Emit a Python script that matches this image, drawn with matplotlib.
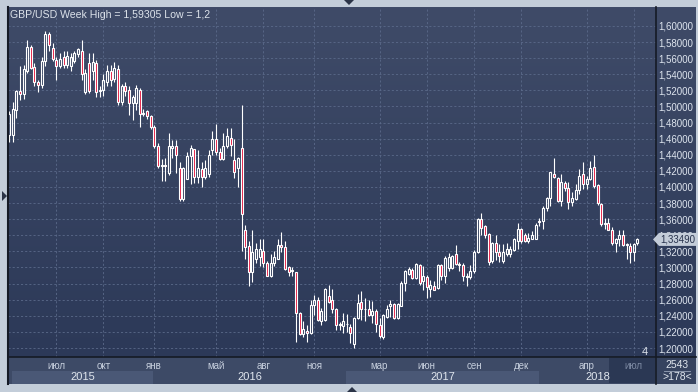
import matplotlib
matplotlib.use("Agg")
import matplotlib.pyplot as plt
import matplotlib.transforms as mtransforms
import numpy as np
from matplotlib.patches import Rectangle, Polygon
from matplotlib.lines import Line2D
from matplotlib.colors import LinearSegmentedColormap

plt.rcParams['font.family'] = ['Liberation Sans', 'DejaVu Sans']

# weekly GBP/USD candles (oldest first)
opens = [
    1.465, 1.465, 1.496, 1.519, 1.516, 1.544, 1.574, 1.549, 1.530, 1.527,
    1.557, 1.590, 1.573, 1.558, 1.550, 1.562, 1.552, 1.550, 1.556, 1.565,
    1.569, 1.518, 1.554, 1.544, 1.554, 1.519, 1.520, 1.531, 1.544, 1.534,
    1.546, 1.505, 1.525, 1.520, 1.504, 1.504, 1.521, 1.491, 1.494, 1.488,
    1.475, 1.451, 1.426, 1.427, 1.417, 1.449, 1.451, 1.423, 1.385, 1.410,
    1.438, 1.447, 1.413, 1.422, 1.413, 1.416, 1.446, 1.460, 1.443, 1.435,
    1.451, 1.461, 1.433, 1.423, 1.448, 1.346, 1.327, 1.294, 1.310, 1.313,
    1.321, 1.306, 1.290, 1.306, 1.311, 1.328, 1.326, 1.301, 1.296, 1.294,
    1.243, 1.2175, 1.2217, 1.2183, 1.253, 1.2596, 1.234, 1.235, 1.2642, 1.26,
    1.2488, 1.2283, 1.2279, 1.2292, 1.2263, 1.2046, 1.2371, 1.2571, 1.248, 1.2483,
    1.2413, 1.2463, 1.2288, 1.2142, 1.2379, 1.2517, 1.2546, 1.2371, 1.2525, 1.2808,
    1.2921, 1.2975, 1.2871, 1.3029, 1.2829, 1.2879, 1.2738, 1.2775, 1.2746, 1.3029,
    1.2892, 1.2996, 1.2996, 1.3162, 1.3046, 1.3029, 1.2888, 1.2888, 1.2954, 1.3192,
    1.36, 1.3517, 1.3413, 1.3079, 1.33, 1.3192, 1.3079, 1.3163, 1.3171, 1.3217,
    1.3329, 1.3483, 1.34, 1.3329, 1.3358, 1.3358, 1.3579, 1.3579, 1.3733, 1.3858,
    1.4163, 1.4108, 1.3829, 1.405, 1.3983, 1.3808, 1.385, 1.3963, 1.4163, 1.4038,
    1.41, 1.4246, 1.4025, 1.3788, 1.3538, 1.355, 1.3467, 1.33, 1.335, 1.3404,
    1.3275, 1.3267, 1.3196, 1.33,
]
highs = [
    1.494, 1.506, 1.520, 1.550, 1.552, 1.583, 1.577, 1.554, 1.533, 1.562,
    1.594, 1.593, 1.579, 1.562, 1.567, 1.569, 1.569, 1.567, 1.569, 1.573,
    1.583, 1.546, 1.567, 1.567, 1.558, 1.525, 1.540, 1.552, 1.552, 1.555,
    1.552, 1.528, 1.531, 1.525, 1.514, 1.527, 1.523, 1.497, 1.496, 1.490,
    1.477, 1.455, 1.435, 1.436, 1.467, 1.458, 1.458, 1.431, 1.425, 1.444,
    1.452, 1.447, 1.446, 1.431, 1.434, 1.446, 1.469, 1.478, 1.448, 1.467,
    1.473, 1.473, 1.460, 1.437, 1.502, 1.353, 1.333, 1.347, 1.331, 1.336,
    1.336, 1.308, 1.317, 1.321, 1.335, 1.344, 1.333, 1.302, 1.301, 1.295,
    1.245, 1.233, 1.229, 1.260, 1.266, 1.263, 1.250, 1.274, 1.2787, 1.2737,
    1.2496, 1.2329, 1.2429, 1.2421, 1.2304, 1.238, 1.267, 1.2704, 1.262, 1.2596,
    1.2588, 1.2483, 1.237, 1.2421, 1.2538, 1.26, 1.2558, 1.2558, 1.283, 1.2975,
    1.3004, 1.2996, 1.3058, 1.3046, 1.3013, 1.2913, 1.285, 1.2829, 1.3038, 1.3038,
    1.3142, 1.3183, 1.3158, 1.3275, 1.3067, 1.305, 1.2933, 1.3025, 1.3217, 1.3621,
    1.3675, 1.3533, 1.3433, 1.3317, 1.3408, 1.3288, 1.3288, 1.3308, 1.3267, 1.3371,
    1.3558, 1.3496, 1.3433, 1.3433, 1.345, 1.3558, 1.3621, 1.3758, 1.3871, 1.4192,
    1.4358, 1.4121, 1.4163, 1.4079, 1.4067, 1.3933, 1.4038, 1.4225, 1.4308, 1.4142,
    1.4325, 1.44, 1.4038, 1.38, 1.3613, 1.3613, 1.35, 1.3363, 1.3467, 1.3467,
    1.33, 1.33, 1.3308, 1.3363,
]
lows = [
    1.456, 1.456, 1.486, 1.508, 1.509, 1.542, 1.546, 1.525, 1.518, 1.523,
    1.550, 1.569, 1.556, 1.533, 1.548, 1.548, 1.548, 1.544, 1.554, 1.562,
    1.533, 1.516, 1.517, 1.533, 1.512, 1.512, 1.513, 1.525, 1.525, 1.530,
    1.502, 1.502, 1.513, 1.490, 1.483, 1.496, 1.475, 1.488, 1.485, 1.472,
    1.448, 1.424, 1.407, 1.408, 1.415, 1.436, 1.417, 1.383, 1.383, 1.410,
    1.404, 1.405, 1.405, 1.400, 1.410, 1.413, 1.440, 1.440, 1.434, 1.433,
    1.448, 1.438, 1.411, 1.400, 1.321, 1.310, 1.277, 1.282, 1.306, 1.302,
    1.300, 1.289, 1.288, 1.302, 1.310, 1.319, 1.297, 1.290, 1.290, 1.208,
    1.216, 1.214, 1.208, 1.217, 1.241, 1.234, 1.229, 1.2337, 1.2558, 1.2433,
    1.2225, 1.2225, 1.2183, 1.2196, 1.2058, 1.200, 1.2363, 1.235, 1.2338, 1.2396,
    1.2313, 1.2204, 1.2121, 1.2113, 1.2371, 1.2379, 1.2363, 1.236, 1.2517, 1.2713,
    1.2908, 1.2854, 1.2854, 1.2788, 1.2717, 1.2621, 1.2629, 1.2717, 1.2738, 1.285,
    1.2808, 1.2958, 1.2979, 1.3029, 1.2958, 1.2829, 1.2767, 1.2858, 1.2933, 1.3183,
    1.34, 1.3367, 1.3025, 1.3054, 1.3092, 1.3067, 1.3054, 1.3146, 1.3125, 1.3204,
    1.3225, 1.3308, 1.3317, 1.3308, 1.335, 1.335, 1.3517, 1.3483, 1.3708, 1.3767,
    1.4108, 1.3817, 1.3763, 1.3954, 1.3725, 1.3767, 1.3833, 1.3917, 1.3975, 1.3975,
    1.4083, 1.3983, 1.3775, 1.3517, 1.3475, 1.3467, 1.3279, 1.3196, 1.3267, 1.3267,
    1.31, 1.305, 1.3075, 1.3283,
]
closes = [
    1.491, 1.497, 1.519, 1.516, 1.547, 1.574, 1.548, 1.530, 1.527, 1.556,
    1.590, 1.576, 1.559, 1.550, 1.559, 1.552, 1.563, 1.562, 1.567, 1.572,
    1.540, 1.542, 1.519, 1.555, 1.518, 1.521, 1.533, 1.544, 1.533, 1.548,
    1.505, 1.525, 1.519, 1.504, 1.512, 1.523, 1.491, 1.492, 1.488, 1.475,
    1.451, 1.426, 1.427, 1.426, 1.451, 1.451, 1.440, 1.385, 1.424, 1.438,
    1.449, 1.413, 1.423, 1.413, 1.423, 1.440, 1.460, 1.444, 1.435, 1.451,
    1.463, 1.452, 1.419, 1.436, 1.367, 1.325, 1.294, 1.319, 1.323, 1.323,
    1.306, 1.290, 1.306, 1.313, 1.328, 1.325, 1.298, 1.295, 1.297, 1.243,
    1.218, 1.2233, 1.2183, 1.2538, 1.260, 1.2346, 1.2454, 1.2738, 1.2571, 1.2483,
    1.2288, 1.2292, 1.2338, 1.2296, 1.2183, 1.2371, 1.2558, 1.2483, 1.2488, 1.2413,
    1.2463, 1.2296, 1.2154, 1.2413, 1.2483, 1.2546, 1.2371, 1.2546, 1.2808, 1.2954,
    1.2983, 1.2871, 1.3046, 1.2808, 1.2892, 1.2754, 1.2779, 1.2725, 1.3029, 1.2892,
    1.3121, 1.3129, 1.3142, 1.3038, 1.3029, 1.2892, 1.2896, 1.2954, 1.3192, 1.3608,
    1.3496, 1.34, 1.3067, 1.3308, 1.3192, 1.3142, 1.3192, 1.3233, 1.3225, 1.3358,
    1.3483, 1.3329, 1.3329, 1.3371, 1.34, 1.3525, 1.3567, 1.3733, 1.3858, 1.4183,
    1.4121, 1.3829, 1.4058, 1.3983, 1.3808, 1.3858, 1.3963, 1.4142, 1.4038, 1.41,
    1.4233, 1.4008, 1.38, 1.3538, 1.3558, 1.3467, 1.33, 1.335, 1.3404, 1.3279,
    1.3296, 1.3196, 1.3288, 1.3349,
]

# first bar of each labelled month (bar index) and its label
month_pos = [13, 26, 40, 57, 70, 84, 102, 115, 128, 141, 159, 172]
month_lbl = ['июл', 'окт', 'янв', 'май', 'авг', 'ноя', 'мар', 'июн', 'сен', 'дек', 'апр', 'июл']
years = ['2015', '2016', '2017', '2018']
price_levels = np.arange(1.20, 1.6001, 0.02)

W, H = 698, 392
fig = plt.figure(figsize=(W / 100, H / 100), dpi=100, facecolor='#c3cdd9')


def box(x0, y0, x1, y1):
    return [x0 / W, 1 - y1 / H, (x1 - x0) / W, (y1 - y0) / H]


def frect(x0, y0, x1, y1, color, z):
    fig.patches.append(Rectangle((x0 / W, 1 - y1 / H), (x1 - x0) / W, (y1 - y0) / H,
                                 transform=fig.transFigure, facecolor=color,
                                 edgecolor='none', zorder=z))


def fline(xs, ys, color, lw, z=6):
    fig.add_artist(Line2D([x / W for x in xs], [1 - y / H for y in ys], color=color,
                          lw=lw, zorder=z, transform=fig.transFigure))


def ftri(pts, color):
    fig.patches.append(Polygon([(x / W, 1 - y / H) for x, y in pts], closed=True,
                               transform=fig.transFigure, facecolor=color,
                               edgecolor='none', zorder=7))


# gradient background of the chart + price panel
bg = fig.add_axes(box(8, 7, 696, 357), zorder=0)
cmap = LinearSegmentedColormap.from_list('bg', ['#3f4b68', '#2c3958'])
bg.imshow(np.linspace(0, 1, 256).reshape(-1, 1), aspect='auto', cmap=cmap,
          extent=[0, 1, 0, 1], origin='upper')
bg.axis('off')

# time band at the bottom
frect(8, 357, 696, 384, '#3d4a66', 1)
frect(12, 371, 153, 384, '#4a5876', 1.1)
frect(346, 371, 539, 384, '#4a5876', 1.1)
frect(609, 358, 655, 383, '#2b3854', 1.2)
frect(657, 358, 696, 384, '#36435f', 1.2)

ax = fig.add_axes(box(8, 7, 656, 357), zorder=3)
ax.set_facecolor('none')

o = np.array(opens)
h = np.array(highs)
l = np.array(lows)
c = np.array(closes)
x = np.arange(len(c))
top = np.maximum(o, c)
bot = np.minimum(o, c)
face = ['none' if cc >= oo else '#e3173e' for oo, cc in zip(o, c)]

ax.vlines(x, l, bot, color='white', lw=0.8, zorder=3)
ax.vlines(x, top, h, color='white', lw=0.8, zorder=3)
ax.bar(x, np.maximum(top - bot, 0.0003), bottom=bot, width=0.55, color=face,
       edgecolor='white', linewidth=0.8, zorder=4)

ax.set_xlim(-0.28, 178.1)
ax.set_ylim(1.18882, 1.6236)
ax.set_yticks(price_levels)
ax.set_yticklabels([f"{v:.5f}".replace('.', ',') for v in price_levels])
ax.yaxis.tick_right()
ax.tick_params(axis='y', length=0, pad=1.8, labelsize=7, labelcolor='#dde4ee')
ax.set_xticks(month_pos)
ax.set_xticklabels(month_lbl)
ax.tick_params(axis='x', length=0, pad=3, labelsize=7, labelcolor='#c6cfdd')
ax.get_xticklabels()[-1].set_color('#7d8aa3')
ax.grid(True, color='#5b6a8a', lw=0.6, ls=(0, (2.5, 2.5)))
ax.set_axisbelow(True)
for s in ax.spines.values():
    s.set_visible(False)

# separators
fline([8, 8], [7, 384], '#151a25', 1.5)
fline([656, 656], [7, 384], '#151a25', 1.2)
fline([8, 696], [357, 357], '#151a25', 1.2)

# header
fig.text(10 / W, 1 - 15 / H, 'GBP/USD Week High = 1,59305 Low = 1,2', fontsize=7.6,
         color='#dce2ea', va='center', zorder=8)

# years
for xp, yr in zip([83, 250, 443, 598], years):
    fig.text(xp / W, 1 - 377.5 / H, yr, fontsize=8, color='#e0e6ee',
             ha='center', va='center', zorder=8)

# bar counter panel
fig.text(677 / W, 1 - 364.5 / H, '2543', fontsize=7.5, color='#e0e6ee',
         ha='center', va='center', zorder=8)
fline([664, 690], [371, 371], '#9aa6ba', 0.6)
fig.text(677 / W, 1 - 377 / H, '>178<', fontsize=7.5, color='#e0e6ee',
         ha='center', va='center', zorder=8)
fig.text(645 / W, 1 - 352 / H, '4', fontsize=8, color='#e0e6ee',
         ha='center', va='center', zorder=8)

# last price tag (covers the neighbouring grid label, as in the source chart)
yd = ax.transData.transform((0, closes[-1]))[1]
tag = Polygon([(653, yd), (659, yd + 6.5), (697, yd + 6.5), (697, yd - 6.5), (659, yd - 6.5)],
              closed=True, transform=mtransforms.IdentityTransform(),
              facecolor='#c3ccd8', edgecolor='none', zorder=9)
fig.patches.append(tag)
fig.text(660 / W, yd / H, f"{closes[-1]:.5f}".replace('.', ','), fontsize=7,
         color='#27324c', va='center', zorder=10)

# small frame markers
ftri([(344, 0), (354, 0), (349, 5)], '#2b3447')
ftri([(347, 392), (357, 392), (352, 387)], '#2b3447')
ftri([(2, 191), (2, 201), (7, 196)], '#2b3447')

fig.savefig('out.png', dpi=100, facecolor=fig.get_facecolor())
